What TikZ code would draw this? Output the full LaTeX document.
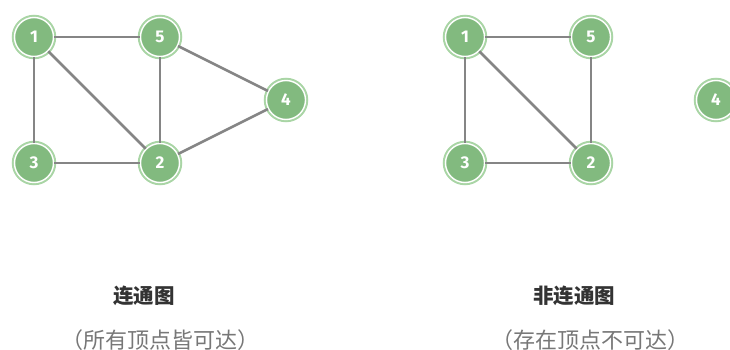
\documentclass[tikz,border=0pt]{standalone}
\usepackage{fontspec}
\setmainfont{Fira Sans}
\newfontfamily\cjk{Noto Sans CJK SC}
\definecolor{nodefill}{HTML}{82BA7F}
\definecolor{nodering}{HTML}{A9D5A5}
\definecolor{edgegray}{HTML}{858585}
\definecolor{titlegray}{HTML}{333333}
\definecolor{subgray}{HTML}{777777}
\begin{document}
\begin{tikzpicture}[x=1pt,y=-1pt,
  vert/.style={circle, minimum size=39pt, inner sep=0pt, fill=nodefill, draw=white, line width=1.4pt,
    preaction={draw=nodering, line width=5.5pt}, text=white, font=\bfseries\fontsize{17}{20}\selectfont},
  edge/.style={draw=edgegray, line width=2.6pt},
  title/.style={font=\cjk\bfseries\fontsize{20.5}{24}\selectfont, text=titlegray},
  sub/.style={font=\cjk\fontsize{22}{26}\selectfont, text=subgray}]
\useasboundingbox (0,0) rectangle (730,350);
\clip (0,0) rectangle (730,350);
% left graph
\node[vert] (a1) at (34,37) {1};
\node[vert] (a5) at (160,37) {5};
\node[vert] (a3) at (34,163) {3};
\node[vert] (a2) at (160,163) {2};
\node[vert] (a4) at (286,100) {4};
% right graph
\node[vert] (b1) at (465,37) {1};
\node[vert] (b5) at (591,37) {5};
\node[vert] (b3) at (465,163) {3};
\node[vert] (b2) at (591,163) {2};
\node[vert] (b4) at (716,100) {4};
\draw[edge] (a1) -- (a5);
\draw[edge] (a1) -- (a3);
\draw[edge] (a1) -- (a2);
\draw[edge] (a5) -- (a2);
\draw[edge] (a3) -- (a2);
\draw[edge] (a5) -- (a4);
\draw[edge] (a2) -- (a4);
\draw[edge] (b1) -- (b5);
\draw[edge] (b1) -- (b3);
\draw[edge] (b1) -- (b2);
\draw[edge] (b5) -- (b2);
\draw[edge] (b3) -- (b2);
\node[title] (t1) at (144,296) {连通图};
\node[sub] (s1) at (160,340) {（所有顶点皆可达）};
\node[title] (t2) at (574,296) {非连通图};
\node[sub] (s2) at (590,340) {（存在顶点不可达）};
\end{tikzpicture}
\end{document}
